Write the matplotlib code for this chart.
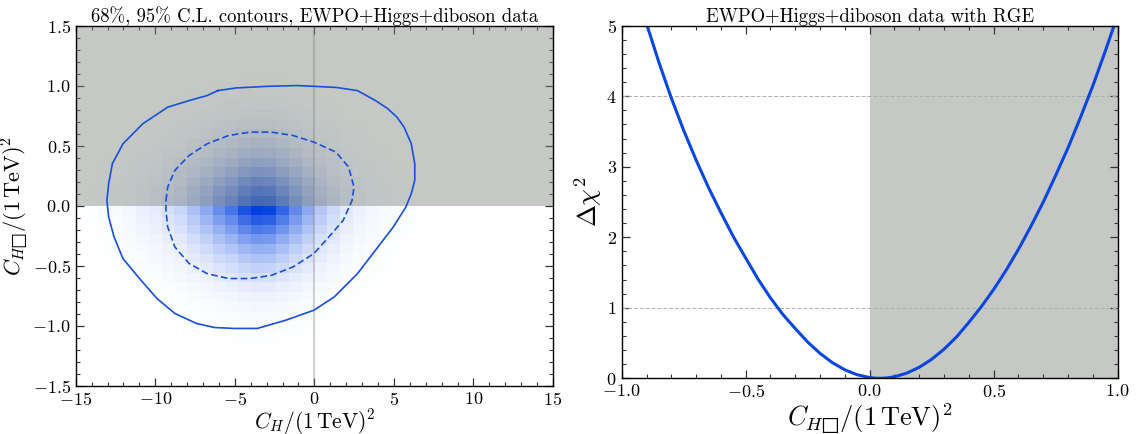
import numpy as np
import matplotlib
matplotlib.use("Agg")
from matplotlib import pyplot as plt
from matplotlib.colors import LinearSegmentedColormap
from matplotlib.ticker import MultipleLocator

plt.rcParams["font.family"] = "serif"
plt.rcParams["font.serif"] = ["cmr10"]
plt.rcParams["mathtext.fontset"] = "cm"
plt.rcParams["axes.formatter.use_mathtext"] = True
plt.rcParams["axes.unicode_minus"] = False

# --- left panel: binned posterior (40 x 40 bins) ---
x_edges = np.linspace(-16, 16, 41)
y_edges = np.linspace(-1.6, 1.6, 41)
# relative weight per C_H bin (from -16 to 16)
x_weight = [0, 0, 0.01, 0.02, 0.03, 0.05, 0.08, 0.11, 0.17, 0.22,
            0.33, 0.45, 0.60, 0.72, 0.90, 1.00, 0.97, 0.80, 0.62, 0.45,
            0.30, 0.20, 0.12, 0.08, 0.05, 0.035, 0.02, 0.012, 0.006, 0.003,
            0, 0, 0, 0, 0, 0, 0, 0, 0, 0]
# relative weight per C_HBox bin (from -1.6 to 1.6)
y_weight = [0, 0, 0, 0.003, 0.005, 0.009, 0.014, 0.022, 0.032, 0.047,
            0.07, 0.11, 0.17, 0.24, 0.32, 0.42, 0.55, 0.70, 0.85, 1.00,
            0.92, 0.80, 0.66, 0.52, 0.40, 0.30, 0.22, 0.15, 0.10, 0.065,
            0.04, 0.025, 0.015, 0.01, 0.005, 0.002, 0, 0, 0, 0]

# 95% C.L. contour (solid)
c95_x = [-6.07, -4.94, -2.91, -1.11, -0.03, 1.40, 2.71, 3.84, 4.60, 5.19, 5.64, 6.09,
         6.31, 6.31, 6.09, 5.75, 4.96, 4.40, 3.84, 2.71, 1.25, -0.03, -1.79,
         -3.59, -5.05, -6.29, -7.42, -8.77, -9.89, -10.90, -12.03, -12.59, -12.93,
         -13.04, -12.93, -12.70, -12.03, -10.79, -9.22, -7.87, -6.74, -6.07]
c95_y = [0.959, 0.981, 0.995, 1.001, 0.995, 0.985, 0.959, 0.876, 0.810, 0.738, 0.654, 0.516,
         0.349, 0.211, 0.100, -0.011, -0.177, -0.274, -0.371, -0.566, -0.760, -0.871, -0.954,
         -1.023, -1.023, -1.015, -0.981, -0.898, -0.774, -0.621, -0.441, -0.261, -0.094,
         0.044, 0.183, 0.349, 0.516, 0.682, 0.821, 0.876, 0.918, 0.959]

# 68% C.L. contour (dashed)
c68_x = [-9.33, -9.22, -8.77, -7.87, -6.74, -5.39, -4.04, -2.69, -1.34, -0.03,
         1.36, 2.15, 2.49, 2.37, 1.81, 0.91, -0.03, -1.34, -2.69, -4.04,
         -5.39, -6.74, -7.87, -8.77, -9.22, -9.33, -9.33]
c68_y = [0.044, 0.155, 0.294, 0.419, 0.516, 0.585, 0.613, 0.613, 0.585, 0.530,
         0.446, 0.322, 0.155, 0.044, -0.122, -0.261, -0.399, -0.510, -0.580, -0.607,
         -0.607, -0.566, -0.482, -0.344, -0.177, -0.039, 0.044]

# --- right panel: delta chi^2 profile ---
chb = [-0.90, -0.85, -0.80, -0.75, -0.70, -0.65, -0.60, -0.55, -0.50, -0.45,
       -0.40, -0.35, -0.30, -0.25, -0.20, -0.15, -0.10, -0.05, 0.00, 0.025,
       0.05, 0.075, 0.10, 0.15, 0.20, 0.25, 0.30, 0.35, 0.40, 0.45,
       0.50, 0.55, 0.60, 0.65, 0.70, 0.75, 0.80, 0.85, 0.90, 0.95, 1.00]
dchi2 = [5.03, 4.48, 3.975, 3.515, 3.095, 2.705, 2.35, 2.01, 1.705, 1.405,
         1.14, 0.905, 0.705, 0.514, 0.353, 0.221, 0.12, 0.05, 0.01, 0.0014,
         0.0006, 0.0075, 0.022, 0.074, 0.157, 0.27, 0.414, 0.586, 0.794, 1.015,
         1.26, 1.532, 1.83, 2.155, 2.50, 2.878, 3.27, 3.70, 4.15, 4.64, 5.15]

blue = "#0a46e0"
line_blue = "#1650dc"
shade = (0.50, 0.53, 0.50)
box_label = "$C_{H\u25a1}/(1\\,\\mathrm{TeV})^2$"

fig = plt.figure(figsize=(11.37, 4.34), dpi=100)
ax1 = fig.add_axes([0.0666, 0.1113, 0.4198, 0.8295])
ax2 = fig.add_axes([0.5468, 0.1283, 0.4362, 0.8124])

cmap = LinearSegmentedColormap.from_list("wb", ["white", "#0040e0"])
H = np.outer(y_weight, x_weight)
ax1.pcolormesh(x_edges, y_edges, H, cmap=cmap, vmin=0, vmax=H.max(), zorder=1)
ax1.axhspan(0, 1.5, color=shade, alpha=0.45, lw=0, zorder=2)
ax1.axvline(0, color="grey", lw=1.5, alpha=0.35, zorder=3)
ax1.plot(c95_x, c95_y, color=line_blue, lw=1.2, zorder=4)
ax1.plot(c68_x, c68_y, color=line_blue, lw=1.2, ls=(0, (4, 2)), zorder=4)
ax1.set_xlim(-15, 15)
ax1.set_ylim(-1.5, 1.5)
ax1.xaxis.set_major_locator(MultipleLocator(5))
ax1.xaxis.set_minor_locator(MultipleLocator(1))
ax1.yaxis.set_major_locator(MultipleLocator(0.5))
ax1.yaxis.set_minor_locator(MultipleLocator(0.1))
ax1.set_title("68%, 95% C.L. contours, EWPO+Higgs+diboson data", fontsize=13.5, pad=3)
ax1.set_xlabel(r"$C_H/(1\,\mathrm{TeV})^2$", fontsize=15.5, labelpad=0)
ax1.set_ylabel(box_label, fontsize=16, labelpad=2)

ax2.axvspan(0, 1, color=shade, alpha=0.45, lw=0, zorder=1)
for lvl in [1, 4]:
    ax2.axhline(lvl, color="#b0b0b0", lw=0.7, ls=(0, (4, 2)), zorder=2)
ax2.plot(chb, dchi2, color=blue, lw=2.2, zorder=3)
ax2.set_xlim(-1, 1)
ax2.set_ylim(0, 5)
ax2.xaxis.set_major_locator(MultipleLocator(0.5))
ax2.xaxis.set_minor_locator(MultipleLocator(0.1))
ax2.yaxis.set_major_locator(MultipleLocator(1))
ax2.yaxis.set_minor_locator(MultipleLocator(0.2))
ax2.set_title("EWPO+Higgs+diboson data with RGE", fontsize=13.5, pad=3)
ax2.set_xlabel(box_label, fontsize=19, labelpad=1)
ax2.set_ylabel(r"$\Delta\chi^2$", fontsize=19, labelpad=2)

for ax in (ax1, ax2):
    ax.tick_params(which="both", direction="in", top=True, right=True,
                   labelsize=13, color="#333333")
    ax.tick_params(which="major", length=6, width=0.9)
    ax.tick_params(which="minor", length=3, width=0.8)
    for s in ax.spines.values():
        s.set_linewidth(1.0)
        s.set_zorder(10)

fig.savefig("out.png", dpi=100)
